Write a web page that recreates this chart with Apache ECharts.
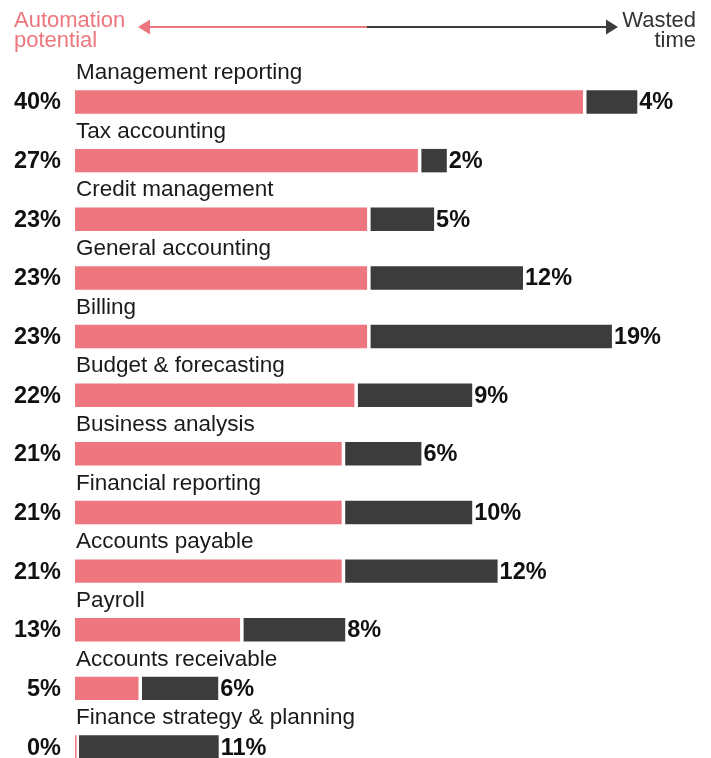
<!DOCTYPE html>
<html>
<head>
<meta charset="utf-8">
<script src="https://cdn.jsdelivr.net/npm/echarts@6/dist/echarts.min.js"></script>
<style>
  html, body { margin: 0; padding: 0; background: #fff; }
  #chart { width: 711px; height: 758px; }
</style>
</head>
<body>
<div id="chart"></div>
<script>
// Finance activities, top to bottom
const categories = [
  'Management reporting', 'Tax accounting', 'Credit management', 'General accounting',
  'Billing', 'Budget & forecasting', 'Business analysis', 'Financial reporting',
  'Accounts payable', 'Payroll', 'Accounts receivable', 'Finance strategy & planning'
];
// Share of time that could be automated (%)
const automationPotential = [40, 27, 23, 23, 23, 22, 21, 21, 21, 13, 5, 0];
// Share of time wasted (%)
const wastedTime = [4, 2, 5, 12, 19, 9, 6, 10, 12, 8, 6, 11];

const PINK = '#EE767E';
const DARK = '#3C3C3C';
const TEXT = '#111111';
const FONT = '"Liberation Sans", Arial, sans-serif';
const GAP = 3.5;        // white gap between the two segments
const BAR_RATIO = 0.4;  // bar thickness relative to one row step

const chart = echarts.init(document.getElementById('chart'), null, { renderer: 'canvas' });

function renderAutomation(params, api) {
  const idx = api.value(0);
  const v = api.value(1);
  const p0 = api.coord([0, idx]);
  const p1 = api.coord([v, idx]);
  const step = Math.abs(api.size([0, 1])[1]);
  const h = step * BAR_RATIO;
  const w = Math.max(p1[0] - p0[0], 1.5);
  return {
    type: 'group',
    children: [
      { type: 'rect', shape: { x: p0[0], y: p0[1] - h / 2, width: w, height: h },
        style: { fill: PINK } },
      { type: 'text', x: p0[0] + 1, y: p0[1] - 29,
        style: { text: categories[idx], fill: '#1a1a1a', font: '22.5px ' + FONT,
                 textAlign: 'left', textVerticalAlign: 'middle' } },
      { type: 'text', x: 61, y: p0[1] + 1,
        style: { text: v + '%', fill: TEXT, font: 'bold 23.5px ' + FONT,
                 textAlign: 'right', textVerticalAlign: 'middle' } }
    ]
  };
}

function renderWasted(params, api) {
  const idx = api.value(0);
  const base = api.value(1);
  const v = api.value(2);
  const pb = api.coord([base, idx]);
  const p0 = api.coord([0, idx]);
  const pv = api.coord([v, idx]);
  const step = Math.abs(api.size([0, 1])[1]);
  const h = step * BAR_RATIO;
  const startX = Math.max(pb[0], p0[0] + 0.5) + GAP;
  const w = pv[0] - p0[0];
  return {
    type: 'group',
    children: [
      { type: 'rect', shape: { x: startX, y: pb[1] - h / 2, width: w, height: h },
        style: { fill: DARK } },
      { type: 'text', x: startX + w + 2, y: pb[1] + 1,
        style: { text: v + '%', fill: TEXT, font: 'bold 23.5px ' + FONT,
                 textAlign: 'left', textVerticalAlign: 'middle' } }
    ]
  };
}

const option = {
  animation: false,
  grid: { left: 75, top: 73, width: 635, height: 685, containLabel: false },
  xAxis: { type: 'value', min: 0, max: 50, show: false },
  // row index axis; rows sit on whole numbers, top row first
  yAxis: { type: 'value', min: -0.4945, max: 11.187, inverse: true, show: false },
  series: [
    {
      type: 'custom',
      renderItem: renderAutomation,
      encode: { x: 1, y: 0 },
      clip: false,
      data: automationPotential.map((v, i) => [i, v])
    },
    {
      type: 'custom',
      renderItem: renderWasted,
      encode: { x: 2, y: 0 },
      clip: false,
      data: wastedTime.map((v, i) => [i, automationPotential[i], v])
    }
  ],
  graphic: [
    { type: 'text', left: 14, top: 10,
      style: { text: 'Automation\npotential', fill: PINK, font: '22px ' + FONT,
               lineHeight: 20, textAlign: 'left' } },
    { type: 'text', right: 15, top: 10,
      style: { text: 'Wasted\ntime', fill: '#333', font: '22px ' + FONT,
               lineHeight: 20, textAlign: 'right' } },
    { type: 'line', shape: { x1: 146, y1: 27, x2: 367, y2: 27 },
      style: { stroke: PINK, lineWidth: 2 } },
    { type: 'line', shape: { x1: 367, y1: 27, x2: 610, y2: 27 },
      style: { stroke: DARK, lineWidth: 2 } },
    { type: 'polygon', shape: { points: [[138, 27], [150, 19.5], [150, 34.5]] },
      style: { fill: PINK } },
    { type: 'polygon', shape: { points: [[618, 27], [606, 19.5], [606, 34.5]] },
      style: { fill: DARK } }
  ]
};

chart.setOption(option);
</script>
</body>
</html>
